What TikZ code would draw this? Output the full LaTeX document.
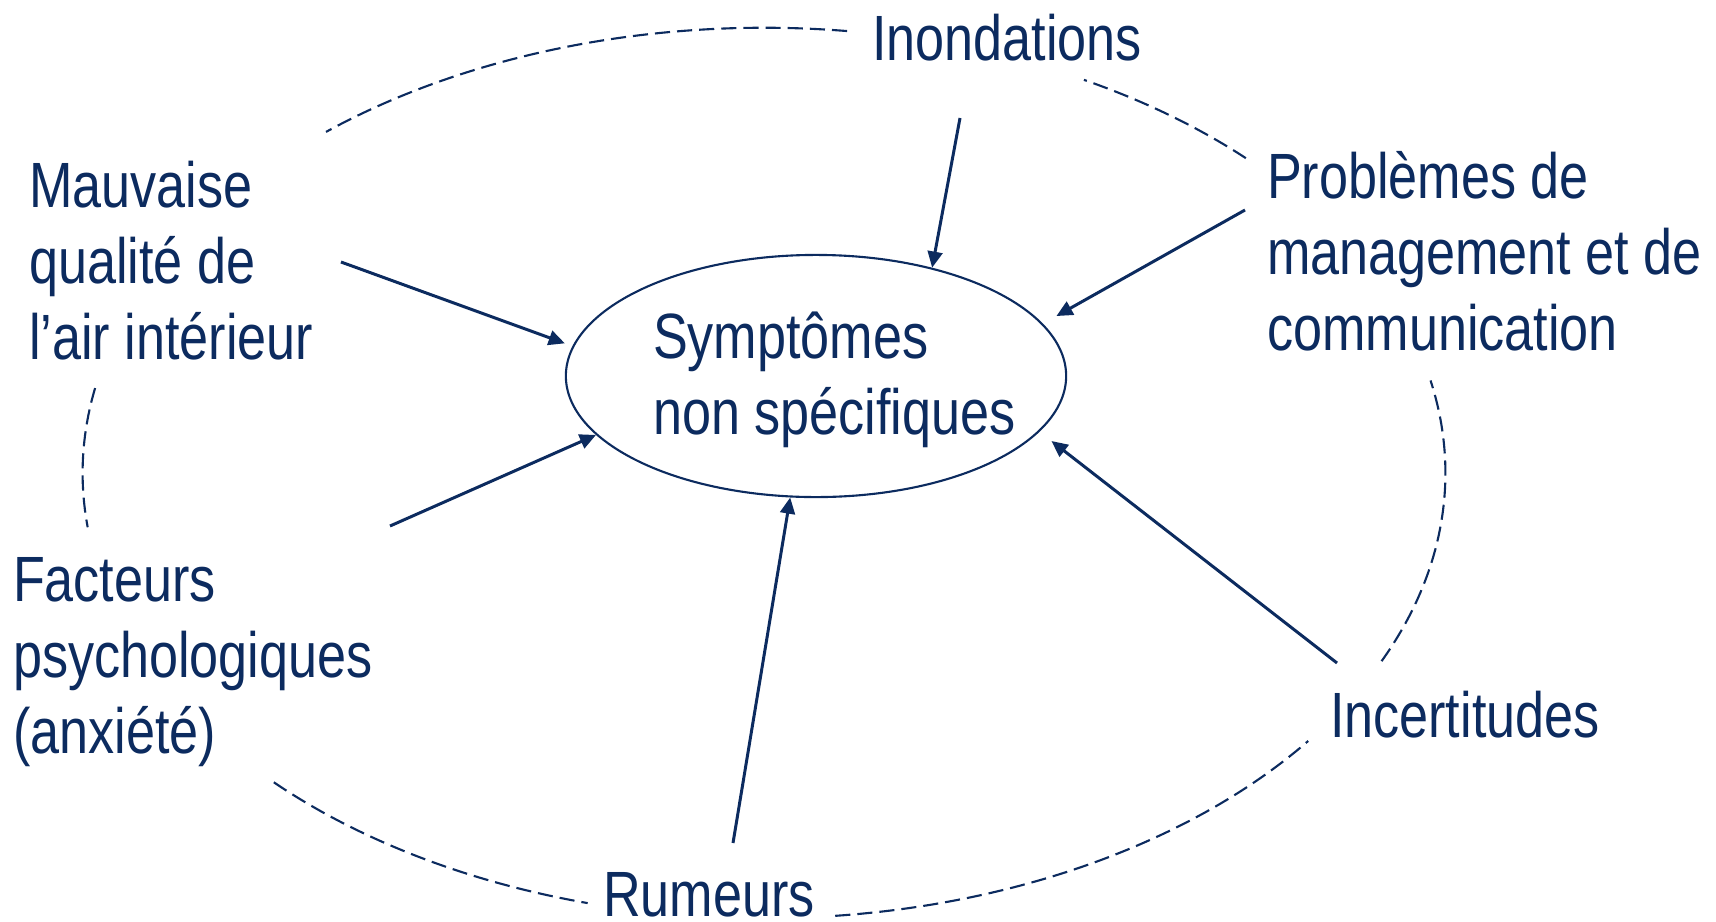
\documentclass[tikz,border=0pt]{standalone}
\usepackage{fontspec}
\setmainfont{Liberation Sans}[FakeStretch=0.815]
\usetikzlibrary{shapes.geometric,arrows.meta}
\definecolor{navy}{RGB}{12,43,95}
\begin{document}
\begin{tikzpicture}[x=0.01cm,y=-0.01cm,
  lbl/.style={anchor=base west, inner sep=0pt, outer sep=0pt, align=left, text=navy,
    font=\fontsize{18.2}{21.6}\selectfont},
  link/.style={draw=navy, line width=0.85pt, -{Triangle[length=4.6pt,width=4.2pt]}},
  ring/.style={draw=navy, line width=0.6pt, dash pattern=on 4.3pt off 2pt},
  core/.style={ellipse, draw=navy, line width=0.6pt, minimum width=5cm, minimum height=2.42cm, inner sep=0pt}
]
\useasboundingbox (0,0) rectangle (1716,921);

% central ellipse and its text (anchor = baseline of last line)
\node[core] (sym) at (816,376) {};
\node[lbl] (symtxt) at (653,434) {Symptômes\\non spécifiques};

% labels (anchor = baseline of last line)
\node[lbl] (ino) at (872,60) {Inondations};
\node[lbl] (mau) at (29,359) {Mauvaise\\qualité de\\l’air intérieur};
\node[lbl] (pro) at (1267,350) {Problèmes de\\management et de\\communication};
\node[lbl] (fac) at (13,753) {Facteurs\\psychologiques\\(anxiété)};
\node[lbl] (inc) at (1330,737) {Incertitudes};
\node[lbl] (rum) at (603,916) {Rumeurs};

% arrow start points
\coordinate (inoS) at (960,118);
\coordinate (proS) at (1245,210);
\coordinate (mauS) at (341,262);
\coordinate (facS) at (390,526);
\coordinate (rumS) at (733,843);
\coordinate (incS) at (1337,663);

\draw[link] (inoS) -- (sym.43.5);
\draw[link, shorten >=4.4pt] (proS) -- (sym.13.7);
\draw[link, shorten >=2.3pt] (mauS) -- (sym.173.6);
\draw[link] (facS) -- (sym.195.4);
\draw[link] (rumS) -- (sym.258.9);
\draw[link, shorten >=4.3pt] (incS) -- (sym.346.8);

% dashed outer ring segments
\coordinate (C) at (764,473);
\foreach \a/\b in {83/130, 45/62, -25/12, -84/-37, 224/255, 169/187}{
  \draw[ring] ([shift={(\a:6.81cm and 4.45cm)}]C) arc[start angle=\a, end angle=\b, x radius=6.81cm, y radius=4.45cm];
}
\end{tikzpicture}
\end{document}
